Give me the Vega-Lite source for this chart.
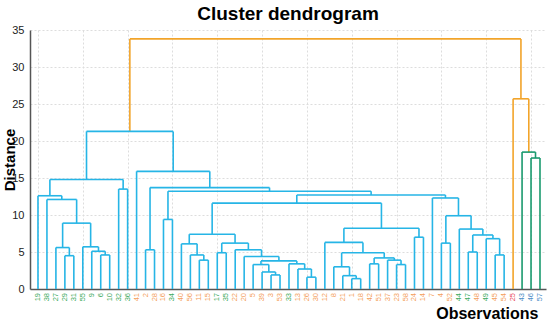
{
  "$schema": "https://vega.github.io/schema/vega-lite/v6.json",
  "autosize": "none",
  "width": 516,
  "height": 259,
  "padding": {"left": 30, "top": 30, "right": 4, "bottom": 31},
  "background": "white",
  "title": {"text": "Cluster dendrogram", "fontSize": 19, "fontWeight": "bold", "font": "Liberation Sans", "color": "#000000", "anchor": "middle", "frame": "group", "offset": 7, "dy": 7},
  "config": {
    "view": {"stroke": null},
    "font": "Liberation Sans",
    "axisX": {"values": [0,1,2,3,4,5,6,7,8,9,10,11,12,13,14,15,16,17,18,19,20,21,22,23,24,25,26,27,28,29,30,31,32,33,34,35,36,37,38,39,40,41,42,43,44,45,46,47,48,49,50,51,52,53,54,55,56],
      "labels": false, "ticks": false, "grid": true, "gridColor": "#dddddd", "gridDash": [2, 2], "gridWidth": 1,
      "domain": true, "domainColor": "#555555", "domainWidth": 1.5,
      "titleFontSize": 16, "titleFontWeight": "bold", "titleColor": "#000000", "titleFont": "Liberation Sans",
      "titleAnchor": "end", "titleAlign": "right", "titleX": 508, "titleY": 29, "titleBaseline": "alphabetic"},
    "axisY": {"values": [0,5,10,15,20,25,30,35], "ticks": false, "labelPadding": 6,
      "labelFontSize": 11, "labelColor": "#222222", "grid": true, "gridColor": "#dddddd", "gridDash": [2, 2],
      "domain": true, "domainColor": "#555555", "domainWidth": 1.5,
      "titleFontSize": 15, "titleFontWeight": "bold", "titleColor": "#000000", "titleFont": "Liberation Sans",
      "titleX": -13, "titleY": 129.5, "titleAngle": 270, "titleAlign": "center", "titleBaseline": "bottom"}
  },
  "datasets": {
    "nodes": [
      {"xl": 3, "yl": 0, "xr": 4, "yr": 0, "h": 4.5, "clu": "main"},
      {"xl": 2, "yl": 0, "xr": 3.5, "yr": 4.5, "h": 5.6, "clu": "main"},
      {"xl": 7, "yl": 0, "xr": 8, "yr": 0, "h": 4.6, "clu": "main"},
      {"xl": 6, "yl": 0, "xr": 7.5, "yr": 4.6, "h": 5.1, "clu": "main"},
      {"xl": 5, "yl": 0, "xr": 6.75, "yr": 5.1, "h": 5.7, "clu": "main"},
      {"xl": 2.75, "yl": 5.6, "xr": 5.875, "yr": 5.7, "h": 8.9, "clu": "main"},
      {"xl": 1, "yl": 0, "xr": 4.3125, "yr": 8.9, "h": 12.1, "clu": "main"},
      {"xl": 0, "yl": 0, "xr": 2.65625, "yr": 12.1, "h": 12.6, "clu": "main"},
      {"xl": 9, "yl": 0, "xr": 10, "yr": 0, "h": 13.5, "clu": "main"},
      {"xl": 1.328125, "yl": 12.6, "xr": 9.5, "yr": 13.5, "h": 14.8, "clu": "main"},
      {"xl": 12, "yl": 0, "xr": 13, "yr": 0, "h": 5.3, "clu": "main"},
      {"xl": 14, "yl": 0, "xr": 15, "yr": 0, "h": 9.4, "clu": "main"},
      {"xl": 18, "yl": 0, "xr": 19, "yr": 0, "h": 3.9, "clu": "main"},
      {"xl": 17, "yl": 0, "xr": 18.5, "yr": 3.9, "h": 4.6, "clu": "main"},
      {"xl": 16, "yl": 0, "xr": 17.75, "yr": 4.6, "h": 6.1, "clu": "main"},
      {"xl": 20, "yl": 0, "xr": 21, "yr": 0, "h": 4.9, "clu": "main"},
      {"xl": 26, "yl": 0, "xr": 27, "yr": 0, "h": 1.9, "clu": "main"},
      {"xl": 25, "yl": 0, "xr": 26.5, "yr": 1.9, "h": 2.3, "clu": "main"},
      {"xl": 24, "yl": 0, "xr": 25.75, "yr": 2.3, "h": 3.3, "clu": "main"},
      {"xl": 30, "yl": 0, "xr": 31, "yr": 0, "h": 1.6, "clu": "main"},
      {"xl": 29, "yl": 0, "xr": 30.5, "yr": 1.6, "h": 2.7, "clu": "main"},
      {"xl": 28, "yl": 0, "xr": 29.75, "yr": 2.7, "h": 3.4, "clu": "main"},
      {"xl": 24.875, "yl": 3.3, "xr": 28.875, "yr": 3.4, "h": 3.8, "clu": "main"},
      {"xl": 23, "yl": 0, "xr": 26.875, "yr": 3.8, "h": 4.4, "clu": "main"},
      {"xl": 22, "yl": 0, "xr": 24.9375, "yr": 4.4, "h": 5.3, "clu": "main"},
      {"xl": 20.5, "yl": 4.9, "xr": 23.46875, "yr": 5.3, "h": 6.2, "clu": "main"},
      {"xl": 16.875, "yl": 6.1, "xr": 21.984375, "yr": 6.2, "h": 7.4, "clu": "main"},
      {"xl": 35, "yl": 0, "xr": 36, "yr": 0, "h": 1.4, "clu": "main"},
      {"xl": 34, "yl": 0, "xr": 35.5, "yr": 1.4, "h": 1.8, "clu": "main"},
      {"xl": 33, "yl": 0, "xr": 34.75, "yr": 1.8, "h": 3.0, "clu": "main"},
      {"xl": 37, "yl": 0, "xr": 38, "yr": 0, "h": 3.4, "clu": "main"},
      {"xl": 40, "yl": 0, "xr": 41, "yr": 0, "h": 3.3, "clu": "main"},
      {"xl": 39, "yl": 0, "xr": 40.5, "yr": 3.3, "h": 3.9, "clu": "main"},
      {"xl": 37.5, "yl": 3.4, "xr": 39.75, "yr": 3.9, "h": 4.2, "clu": "main"},
      {"xl": 33.875, "yl": 3.0, "xr": 38.625, "yr": 4.2, "h": 4.9, "clu": "main"},
      {"xl": 32, "yl": 0, "xr": 36.25, "yr": 4.9, "h": 6.3, "clu": "main"},
      {"xl": 42, "yl": 0, "xr": 43, "yr": 0, "h": 7.0, "clu": "main"},
      {"xl": 34.125, "yl": 6.3, "xr": 42.5, "yr": 7.0, "h": 8.2, "clu": "main"},
      {"xl": 19.4296875, "yl": 7.4, "xr": 38.3125, "yr": 8.2, "h": 11.6, "clu": "main"},
      {"xl": 45, "yl": 0, "xr": 46, "yr": 0, "h": 6.2, "clu": "main"},
      {"xl": 51, "yl": 0, "xr": 52, "yr": 0, "h": 4.6, "clu": "main"},
      {"xl": 50, "yl": 0, "xr": 51.5, "yr": 4.6, "h": 6.8, "clu": "main"},
      {"xl": 48, "yl": 0, "xr": 49, "yr": 0, "h": 5.0, "clu": "main"},
      {"xl": 48.5, "yl": 5.0, "xr": 50.75, "yr": 6.8, "h": 7.3, "clu": "main"},
      {"xl": 47, "yl": 0, "xr": 49.625, "yr": 7.3, "h": 8.1, "clu": "main"},
      {"xl": 45.5, "yl": 6.2, "xr": 48.3125, "yr": 8.1, "h": 9.9, "clu": "main"},
      {"xl": 44, "yl": 0, "xr": 46.90625, "yr": 9.9, "h": 12.3, "clu": "main"},
      {"xl": 28.87109375, "yl": 11.6, "xr": 45.453125, "yr": 12.3, "h": 12.7, "clu": "main"},
      {"xl": 14.5, "yl": 9.4, "xr": 37.162109375, "yr": 12.7, "h": 13.2, "clu": "main"},
      {"xl": 12.5, "yl": 5.3, "xr": 25.8310546875, "yr": 13.2, "h": 13.7, "clu": "main"},
      {"xl": 11, "yl": 0, "xr": 19.16552734375, "yr": 13.7, "h": 15.9, "clu": "main"},
      {"xl": 5.4140625, "yl": 14.8, "xr": 15.082763671875, "yr": 15.9, "h": 21.3, "clu": "main"},
      {"xl": 55, "yl": 0, "xr": 56, "yr": 0, "h": 17.7, "clu": "side"},
      {"xl": 54, "yl": 0, "xr": 55.5, "yr": 17.7, "h": 18.5, "clu": "side"},
      {"xl": 53, "yl": 0, "xr": 54.75, "yr": 18.5, "h": 25.7, "clu": "top"},
      {"xl": 10.2484130859375, "yl": 21.3, "xr": 53.875, "yr": 25.7, "h": 33.8, "clu": "top"}
    ],
    "leaves": [
      {"pos": 0, "label": "19", "grp": "g"}, {"pos": 1, "label": "38", "grp": "g"},
      {"pos": 2, "label": "27", "grp": "g"}, {"pos": 3, "label": "29", "grp": "g"},
      {"pos": 4, "label": "31", "grp": "g"}, {"pos": 5, "label": "55", "grp": "g"},
      {"pos": 6, "label": "9", "grp": "g"}, {"pos": 7, "label": "6", "grp": "g"},
      {"pos": 8, "label": "10", "grp": "g"}, {"pos": 9, "label": "32", "grp": "g"},
      {"pos": 10, "label": "36", "grp": "g"}, {"pos": 11, "label": "41", "grp": "o"},
      {"pos": 12, "label": "2", "grp": "o"}, {"pos": 13, "label": "28", "grp": "o"},
      {"pos": 14, "label": "16", "grp": "o"}, {"pos": 15, "label": "34", "grp": "g"},
      {"pos": 16, "label": "40", "grp": "o"}, {"pos": 17, "label": "56", "grp": "o"},
      {"pos": 18, "label": "11", "grp": "o"}, {"pos": 19, "label": "15", "grp": "o"},
      {"pos": 20, "label": "17", "grp": "g"}, {"pos": 21, "label": "35", "grp": "g"},
      {"pos": 22, "label": "22", "grp": "o"}, {"pos": 23, "label": "20", "grp": "o"},
      {"pos": 24, "label": "5", "grp": "o"}, {"pos": 25, "label": "39", "grp": "o"},
      {"pos": 26, "label": "3", "grp": "o"}, {"pos": 27, "label": "53", "grp": "o"},
      {"pos": 28, "label": "33", "grp": "g"}, {"pos": 29, "label": "13", "grp": "o"},
      {"pos": 30, "label": "26", "grp": "o"}, {"pos": 31, "label": "30", "grp": "o"},
      {"pos": 32, "label": "12", "grp": "o"}, {"pos": 33, "label": "8", "grp": "o"},
      {"pos": 34, "label": "21", "grp": "o"}, {"pos": 35, "label": "1", "grp": "o"},
      {"pos": 36, "label": "18", "grp": "o"}, {"pos": 37, "label": "42", "grp": "o"},
      {"pos": 38, "label": "51", "grp": "o"}, {"pos": 39, "label": "37", "grp": "o"},
      {"pos": 40, "label": "23", "grp": "o"}, {"pos": 41, "label": "58", "grp": "o"},
      {"pos": 42, "label": "24", "grp": "o"}, {"pos": 43, "label": "14", "grp": "o"},
      {"pos": 44, "label": "7", "grp": "o"}, {"pos": 45, "label": "4", "grp": "o"},
      {"pos": 46, "label": "52", "grp": "o"}, {"pos": 47, "label": "44", "grp": "g"},
      {"pos": 48, "label": "47", "grp": "g"}, {"pos": 49, "label": "48", "grp": "o"},
      {"pos": 50, "label": "49", "grp": "g"}, {"pos": 51, "label": "45", "grp": "o"},
      {"pos": 52, "label": "54", "grp": "o"}, {"pos": 53, "label": "25", "grp": "r"},
      {"pos": 54, "label": "43", "grp": "b"}, {"pos": 55, "label": "46", "grp": "b"},
      {"pos": 56, "label": "57", "grp": "b"}
    ]
  },
  "layer": [
    {
      "data": {"name": "nodes"},
      "mark": {"type": "rule", "strokeWidth": 1.6},
      "encoding": {
        "x": {"field": "xl", "type": "quantitative", "title": "Observations",
          "scale": {"domain": [-0.89, 56.67], "nice": false, "zero": false}},
        "y": {"field": "yl", "type": "quantitative", "title": "Distance",
          "scale": {"domain": [0, 35], "nice": false, "zero": true}},
        "y2": {"field": "h"},
        "color": {"field": "clu", "type": "nominal", "legend": null,
          "scale": {"domain": ["main", "top", "side"], "range": ["#26b5e6", "#f2a42a", "#1a9a6e"]}}
      }
    },
    {
      "data": {"name": "nodes"},
      "mark": {"type": "rule", "strokeWidth": 1.6},
      "encoding": {
        "x": {"field": "xr", "type": "quantitative", "title": "Observations", "scale": {"domain": [-0.89, 56.67], "nice": false, "zero": false}},
        "y": {"field": "yr", "type": "quantitative", "title": "Distance", "scale": {"domain": [0, 35], "nice": false, "zero": true}},
        "y2": {"field": "h"},
        "color": {"field": "clu", "type": "nominal", "legend": null,
          "scale": {"domain": ["main", "top", "side"], "range": ["#26b5e6", "#f2a42a", "#1a9a6e"]}}
      }
    },
    {
      "data": {"name": "nodes"},
      "mark": {"type": "rule", "strokeWidth": 1.6},
      "encoding": {
        "x": {"field": "xl", "type": "quantitative", "title": "Observations", "scale": {"domain": [-0.89, 56.67], "nice": false, "zero": false}},
        "x2": {"field": "xr"},
        "y": {"field": "h", "type": "quantitative", "title": "Distance", "scale": {"domain": [0, 35], "nice": false, "zero": true}},
        "color": {"field": "clu", "type": "nominal", "legend": null,
          "scale": {"domain": ["main", "top", "side"], "range": ["#26b5e6", "#f2a42a", "#1a9a6e"]}}
      }
    },
    {
      "data": {"name": "leaves"},
      "mark": {"type": "text", "angle": 270, "align": "right", "baseline": "middle", "dx": -4, "fontSize": 7.5, "font": "Liberation Sans"},
      "encoding": {
        "x": {"field": "pos", "type": "quantitative", "title": "Observations", "scale": {"domain": [-0.89, 56.67], "nice": false, "zero": false}},
        "y": {"datum": 0, "type": "quantitative", "title": "Distance", "scale": {"domain": [0, 35], "nice": false, "zero": true}},
        "text": {"field": "label", "type": "nominal"},
        "color": {"field": "grp", "type": "nominal", "legend": null,
          "scale": {"domain": ["g", "o", "r", "b"], "range": ["#3daa5c", "#f4a05a", "#e8475a", "#4a8cc6"]}}
      }
    }
  ],
  "resolve": {"scale": {"color": "independent"}}
}
